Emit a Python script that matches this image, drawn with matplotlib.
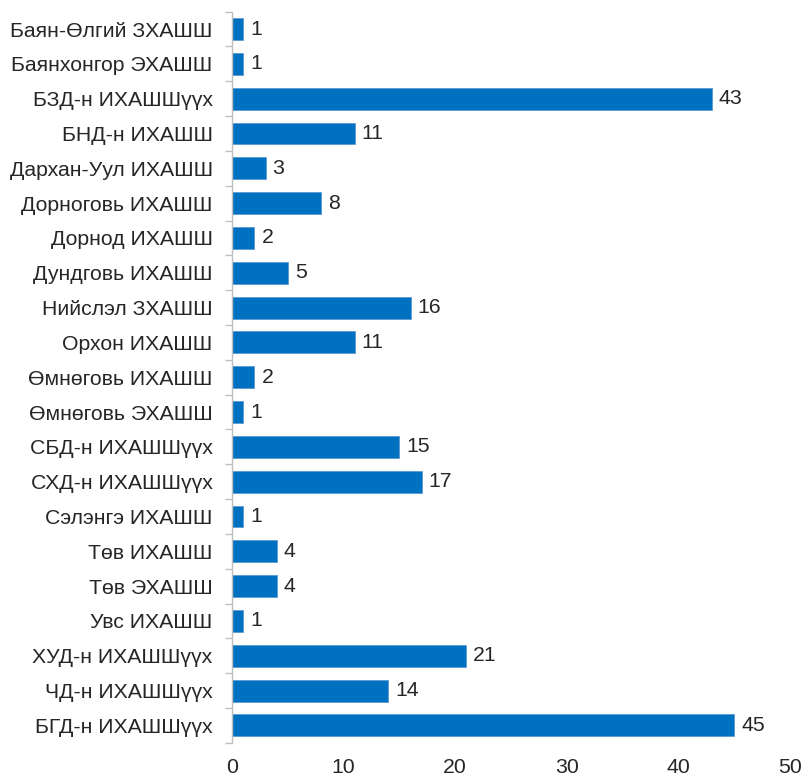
import matplotlib.pyplot as plt
import numpy as np

plt.rcParams['font.family'] = ['Liberation Sans', 'DejaVu Sans']

categories = ["Баян-Өлгий ЗХАШШ", "Баянхонгор ЭХАШШ", "БЗД-н ИХАШШүүх", "БНД-н ИХАШШ",
              "Дархан-Уул ИХАШШ", "Дорноговь ИХАШШ", "Дорнод ИХАШШ", "Дундговь ИХАШШ",
              "Нийслэл ЗХАШШ", "Орхон ИХАШШ", "Өмнөговь ИХАШШ", "Өмнөговь ЭХАШШ",
              "СБД-н ИХАШШүүх", "СХД-н ИХАШШүүх", "Сэлэнгэ ИХАШШ", "Төв ИХАШШ",
              "Төв ЭХАШШ", "Увс ИХАШШ", "ХУД-н ИХАШШүүх", "ЧД-н ИХАШШүүх", "БГД-н ИХАШШүүх"]
values = [1, 1, 43, 11, 3, 8, 2, 5, 16, 11, 2, 1, 15, 17, 1, 4, 4, 1, 21, 14, 45]
xticks = [0, 10, 20, 30, 40, 50]

fs = 15.3
fig = plt.figure(figsize=(8.06, 7.77), dpi=100)
ax = fig.add_axes([0.288, 0.044, 0.692, 0.941])

y = np.arange(len(categories))
bars = ax.barh(y, values, height=0.63, color='#0070C0', edgecolor='#5B9BD5', linewidth=0.6)
ax.bar_label(bars, labels=[str(v) for v in values], padding=5, fontsize=fs, color='#262626')

ax.set_ylim(len(categories) - 0.5, -0.5)
ax.set_xlim(0, 50)
ax.set_yticks(y)
ax.set_yticklabels(categories, fontsize=fs, color='#262626')
ax.set_yticks(np.arange(len(categories) + 1) - 0.5, minor=True)
ax.tick_params(axis='y', which='major', length=0, pad=14)
ax.tick_params(axis='y', which='minor', length=5, color='#BFBFBF', width=1)
ax.set_xticks(xticks)
ax.set_xticklabels([str(t) for t in xticks], fontsize=fs, color='#262626')
ax.tick_params(axis='x', length=0, pad=11)

for s in ['top', 'right', 'bottom']:
    ax.spines[s].set_visible(False)
ax.spines['left'].set_color('#BFBFBF')
ax.spines['left'].set_linewidth(1)

fig.savefig('out.png', dpi=100)
